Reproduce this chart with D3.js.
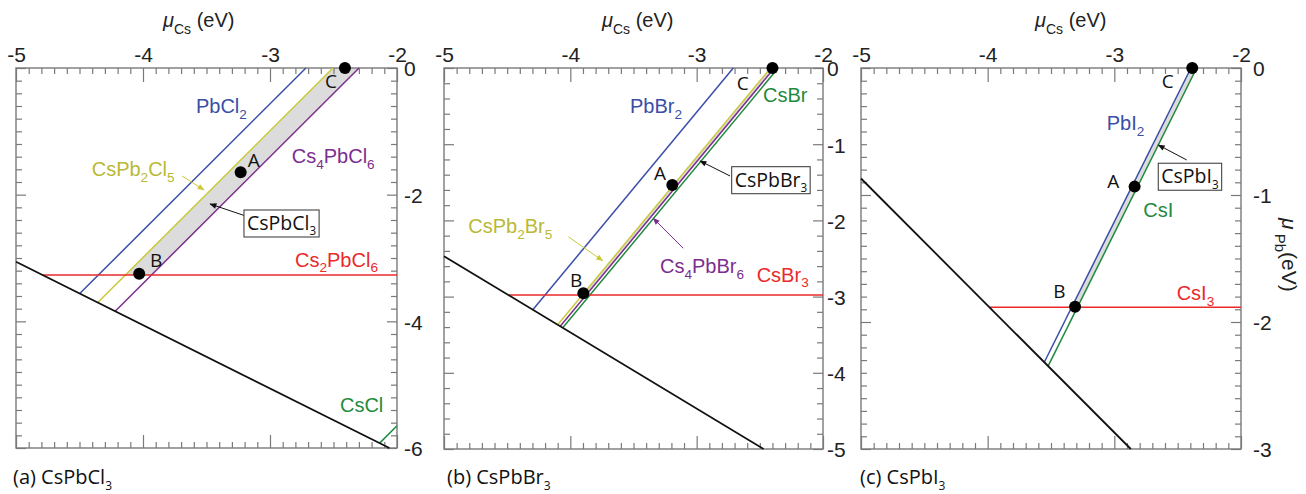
<!DOCTYPE html>
<html><head><meta charset="utf-8">
<script src="https://cdn.jsdelivr.net/npm/d3@7"></script>
<style>body{margin:0;background:#fff}svg{display:block}</style>
</head><body>
<svg id="chart" width="1306" height="494"></svg>
<script>
// ================= DATA =================
const xTickValues = [-5, -4, -3, -2];
const yTickValuesA = [0, -2, -4, -6];
const yTickValuesB = [0, -1, -2, -3, -4, -5];
const yTickValuesC = [0, -1, -2, -3];

const pointNames = ["A", "B", "C"];

// (a) CsPbCl3 — boundary lines, endpoints as [μCs, μPb] (eV)
const phasesA = ["PbCl2", "CsPb2Cl5", "Cs4PbCl6", "Cs2PbCl6", "CsCl", "μCl = 0"];
const rolesA  = ["pbx2", "cspb2x5", "cs4pbx6", "halide", "csx", "limit"];
const fromA = [[-2.717, 0], [-2.504, 0], [-2.299, 0], [-4.79, -3.27], [-2.137, -5.923], [-5, -3.06]];
const toA   = [[-4.498, -3.562], [-4.356, -3.704], [-4.219, -3.841], [-2, -3.27], [-2.0, -5.65], [-2.06, -6]];
const regionA = [[-2.504, 0], [-2.299, 0], [-3.934, -3.27], [-4.139, -3.27]];
const pointsA = [[-3.231, -1.647], [-4.03, -3.25], [-2.41, 0]];
const labelsA = ["PbCl_2", "CsPb_2Cl_5", "Cs_4PbCl_6", "Cs_2PbCl_6", "CsCl"];
const labelRolesA = ["pbx2", "cspb2x5", "cs4pbx6", "halide", "csx"];
const labelPosA = [[-3.583, -0.716], [-4.404, -1.705], [-2.829, -1.505], [-2.803, -3.137], [-2.449, -5.437]];
const letterPosA = [[-3.176, -1.558], [-3.945, -3.137], [-2.567, -0.32]];
const boxTextA = "CsPbCl_3", boxPosA = [-3.205, -2.242];
const arrowsA = [[[-3.11, -2.392], [-3.472, -2.147], "point"], [[-3.693, -1.705], [-3.52, -1.926], "cspb2x5"]];

// (b) CsPbBr3
const phasesB = ["PbBr2", "CsPb2Br5", "Cs4PbBr6", "CsBr", "CsBr3", "μBr = 0"];
const rolesB  = ["pbx2", "cspb2x5", "cs4pbx6", "csx", "halide", "limit"];
const fromB = [[-2.71, 0], [-2.415, 0], [-2.385, 0], [-2.355, 0], [-4.49, -2.98], [-5, -2.47]];
const toB   = [[-4.297, -3.173], [-4.1, -3.37], [-4.08, -3.39], [-4.06, -3.41], [-2, -2.98], [-2.47, -5]];
const regionB = [[-2.415, 0], [-2.385, 0], [-3.875, -2.98], [-3.905, -2.98]];
const pointsB = [[-3.193, -1.535], [-3.897, -2.957], [-2.40, 0]];
const labelsB = ["PbBr_2", "CsBr", "CsPb_2Br_5", "Cs_4PbBr_6", "CsBr_3"];
const labelRolesB = ["pbx2", "csx", "cspb2x5", "cs4pbx6", "halide"];
const labelPosB = [[-3.528, -0.595], [-2.475, -0.442], [-4.808, -2.169], [-3.29, -2.694], [-2.525, -2.804]];
const letterPosB = [[-3.338, -1.47], [-4.003, -2.87], [-2.683, -0.289]];
const boxTextB = "CsPbBr_3", boxPosB = [-2.723, -1.295];
const arrowsB = [[[-2.736, -1.417], [-2.973, -1.22], "point"], [[-4.016, -2.214], [-3.744, -2.529], "cspb2x5"], [[-3.106, -2.366], [-3.344, -1.972], "cs4pbx6"]];

// (c) CsPbI3
const phasesC = ["PbI2", "CsI", "CsI3", "μI = 0"];
const rolesC  = ["pbx2", "csx", "halide", "limit"];
const fromC = [[-2.395, 0], [-2.35, 0], [-3.986, -1.884], [-5, -0.87]];
const toC   = [[-3.553, -2.317], [-3.523, -2.347], [-2, -1.884], [-2.87, -3]];
const regionC = [[-2.395, 0], [-2.35, 0], [-3.292, -1.884], [-3.337, -1.884]];
const pointsC = [[-2.84, -0.934], [-3.31, -1.879], [-2.385, 0]];
const labelsC = ["PbI_2", "CsI", "CsI_3"];
const labelRolesC = ["pbx2", "csx", "halide"];
const labelPosC = [[-3.06, -0.488], [-2.771, -1.171], [-2.508, -1.827]];
const letterPosC = [[-3.056, -0.947], [-3.482, -1.813], [-2.626, -0.16]];
const boxTextC = "CsPbI_3", boxPosC = [-2.653, -0.750];
const arrowsC = [[[-2.429, -0.724], [-2.653, -0.606], "point"]];

const panelTitles = ["(a) CsPbCl_3", "(b) CsPbBr_3", "(c) CsPbI_3"];

// ================= STYLE / LAYOUT =================
const lineColors = {pbx2: "#3a4ea8", cspb2x5: "#c9c93a", cs4pbx6: "#7d2d8f", halide: "#ea2a2a", csx: "#1f8a3e", limit: "#111", point: "#111"};
const textColors = {pbx2: "#3a4ea8", cspb2x5: "#b9b936", cs4pbx6: "#7d2d8f", halide: "#ea2a2a", csx: "#1f8a3e", point: "#111"};
const FONT = "'Liberation Sans', Arial, sans-serif";
const FONT2 = "'Open Sans', 'Liberation Sans', sans-serif";

const layouts = [
  {left: 16, right: 397, top: 68, bottom: 448, yDomain: [0, -6], yTicks: yTickValuesA, yMinor: 0.2, pad: 7, titleX: 163, capX: 13,
   from: fromA, to: toA, roles: rolesA, region: regionA, points: pointsA, labels: labelsA, labelRoles: labelRolesA, labelPos: labelPosA,
   letterPos: letterPosA, boxText: boxTextA, boxPos: boxPosA, arrows: arrowsA, title: panelTitles[0]},
  {left: 444, right: 823, top: 68, bottom: 449, yDomain: [0, -5], yTicks: yTickValuesB, yMinor: 0.2, pad: 4, titleX: 602, capX: 447,
   from: fromB, to: toB, roles: rolesB, region: regionB, points: pointsB, labels: labelsB, labelRoles: labelRolesB, labelPos: labelPosB,
   letterPos: letterPosB, boxText: boxTextB, boxPos: boxPosB, arrows: arrowsB, title: panelTitles[1]},
  {left: 861, right: 1241, top: 68, bottom: 449, yDomain: [0, -3], yTicks: yTickValuesC, yMinor: 0.1, pad: 12, titleX: 1035, capX: 860,
   from: fromC, to: toC, roles: rolesC, region: regionC, points: pointsC, labels: labelsC, labelRoles: labelRolesC, labelPos: labelPosC,
   letterPos: letterPosC, boxText: boxTextC, boxPos: boxPosC, arrows: arrowsC, title: panelTitles[2]}
];

const svg = d3.select("#chart");

// arrow markers
const defs = svg.append("defs");
Object.entries(lineColors).forEach(([k, c]) => {
  defs.append("marker").attr("id", "arr-" + k).attr("viewBox", "0 0 10 10").attr("refX", 9).attr("refY", 5)
    .attr("markerWidth", 8).attr("markerHeight", 7).attr("markerUnits", "userSpaceOnUse").attr("orient", "auto")
    .append("path").attr("d", "M0,1 L10,5 L0,9 Z").attr("fill", c);
});

// rich text: "_x" or "_{xx}" makes subscript
function rich(sel, str, size, subScale = 0.68) {
  const parts = str.split(/(_\{[^}]*\}|_[^\s{])/).filter(p => p.length);
  let shifted = 0;
  const sub = size * 0.28;
  parts.forEach(p => {
    if (p[0] === "_") {
      const t = p[1] === "{" ? p.slice(2, -1) : p.slice(1);
      sel.append("tspan").attr("dy", sub - shifted).attr("font-size", size * subScale).text(t);
      shifted = sub;
    } else {
      sel.append("tspan").attr("dy", -shifted).attr("font-size", size).text(p);
      shifted = 0;
    }
  });
  return sel;
}

function range(a, b, step) {
  const out = [];
  const n = Math.round((b - a) / step);
  for (let i = 0; i <= Math.abs(n); i++) out.push(+(a + Math.sign(n) * i * Math.abs(step)).toFixed(4));
  return out;
}

layouts.forEach(L => {
  const x = d3.scaleLinear().domain([-5, -2]).range([L.left, L.right]);
  const y = d3.scaleLinear().domain(L.yDomain).range([L.top, L.bottom]);
  const g = svg.append("g");

  // region fill
  g.append("path").datum(L.region)
    .attr("d", d3.line().x(d => x(d[0])).y(d => y(d[1])).curve(d3.curveLinearClosed))
    .attr("fill", "#dcdcdc").attr("stroke", "none");

  // axes
  const xMinor = range(-5, -2, 0.1).filter(v => Math.abs(v - Math.round(v)) > 1e-6);
  const yMinor = range(L.yDomain[0], L.yDomain[1], L.yMinor).filter(v => !L.yTicks.some(t => Math.abs(t - v) < 1e-6));
  const styleAxis = s => { s.select(".domain").remove(); s.attr("color", "#7a7a7a");
    s.selectAll("line").attr("stroke-width", 1.2);
    s.selectAll("text").attr("font-family", FONT).attr("font-size", 21).attr("fill", "#222"); };

  g.append("g").attr("transform", `translate(0,${L.top})`)
    .call(d3.axisTop(x).tickValues(xMinor).tickSize(-6).tickFormat("")).call(styleAxis);
  g.append("g").attr("transform", `translate(0,${L.top})`)
    .call(d3.axisTop(x).tickValues(xTickValues).tickSize(-14).tickPadding(6).tickFormat(d => String(d))).call(styleAxis);
  g.append("g").attr("transform", `translate(0,${L.bottom})`)
    .call(d3.axisBottom(x).tickValues(xMinor).tickSize(-6).tickFormat("")).call(styleAxis);
  g.append("g").attr("transform", `translate(0,${L.bottom})`)
    .call(d3.axisBottom(x).tickValues(xTickValues).tickSize(-13).tickFormat("")).call(styleAxis);
  g.append("g").attr("transform", `translate(${L.left},0)`)
    .call(d3.axisLeft(y).tickValues(yMinor).tickSize(-6).tickFormat("")).call(styleAxis);
  g.append("g").attr("transform", `translate(${L.left},0)`)
    .call(d3.axisLeft(y).tickValues(L.yTicks).tickSize(-10).tickFormat("")).call(styleAxis);
  g.append("g").attr("transform", `translate(${L.right},0)`)
    .call(d3.axisRight(y).tickValues(yMinor).tickSize(-6).tickFormat("")).call(styleAxis);
  const ra = g.append("g").attr("transform", `translate(${L.right},0)`)
    .call(d3.axisRight(y).tickValues(L.yTicks).tickSize(-10).tickPadding(L.pad).tickFormat(d => String(d))).call(styleAxis);
  ra.selectAll("text").attr("dy", "0.38em");

  g.append("rect").attr("x", L.left).attr("y", L.top).attr("width", L.right - L.left).attr("height", L.bottom - L.top)
    .attr("fill", "none").attr("stroke", "#7a7a7a").attr("stroke-width", 1.4);

  // boundary lines
  const idx = d3.range(L.from.length);
  g.selectAll("line.phase").data(idx).join("line").attr("class", "phase")
    .attr("x1", i => x(L.from[i][0])).attr("y1", i => y(L.from[i][1]))
    .attr("x2", i => x(L.to[i][0])).attr("y2", i => y(L.to[i][1]))
    .attr("stroke", i => lineColors[L.roles[i]])
    .attr("stroke-width", i => L.roles[i] === "limit" ? 1.8 : 1.5);

  // labels
  L.labels.forEach((t, i) => {
    const te = g.append("text").attr("x", x(L.labelPos[i][0])).attr("y", y(L.labelPos[i][1]))
      .attr("font-family", FONT).attr("fill", textColors[L.labelRoles[i]]);
    rich(te, t, 20);
  });

  // arrows
  L.arrows.forEach(a => {
    g.append("line").attr("x1", x(a[0][0])).attr("y1", y(a[0][1])).attr("x2", x(a[1][0])).attr("y2", y(a[1][1]))
      .attr("stroke", lineColors[a[2]]).attr("stroke-width", 1).attr("marker-end", `url(#arr-${a[2]})`);
  });

  // box label
  const bx = x(L.boxPos[0]), by = y(L.boxPos[1]);
  const bt = g.append("text").attr("x", bx + 3).attr("y", by + 20).attr("font-family", FONT2).attr("fill", "#111");
  rich(bt, L.boxText, 19.5, 0.6);
  const bb = bt.node().getBBox();
  g.insert("rect", () => bt.node()).attr("x", bx).attr("y", by).attr("width", bb.width + 6).attr("height", 27)
    .attr("fill", "#fff").attr("stroke", "#444").attr("stroke-width", 1.1);

  // points
  g.selectAll("circle.pt").data(L.points).join("circle").attr("class", "pt")
    .attr("cx", d => x(d[0])).attr("cy", d => y(d[1])).attr("r", 6).attr("fill", "#000");
  g.selectAll("text.letter").data(pointNames).join("text").attr("class", "letter")
    .attr("x", (d, i) => x(L.letterPos[i][0])).attr("y", (d, i) => y(L.letterPos[i][1]))
    .attr("font-family", FONT2).attr("font-size", 19).attr("fill", "#111").text(d => d);

  // top title μCs (eV)
  const tt = svg.append("text").attr("x", L.titleX).attr("y", 27).attr("font-family", FONT).attr("fill", "#222");
  tt.append("tspan").attr("font-style", "italic").attr("font-size", 20).text("μ");
  tt.append("tspan").attr("font-size", 14).attr("dy", 7).text("Cs");
  tt.append("tspan").attr("font-size", 20).attr("dy", -7).text(" (eV)");

  // caption
  const cap = svg.append("text").attr("x", L.capX).attr("y", 484).attr("font-family", FONT2).attr("fill", "#111");
  rich(cap, L.title, 20, 0.6);
});

// right axis title
const yt = svg.append("text").attr("transform", "translate(1282,218) rotate(90)").attr("font-family", FONT).attr("fill", "#222");
yt.append("tspan").attr("font-style", "italic").attr("font-size", 21).text("μ");
yt.append("tspan").attr("font-size", 15).attr("dy", 7).text(" Pb");
yt.append("tspan").attr("font-size", 21).attr("dy", -7).text("(eV)");
</script>
</body></html>
